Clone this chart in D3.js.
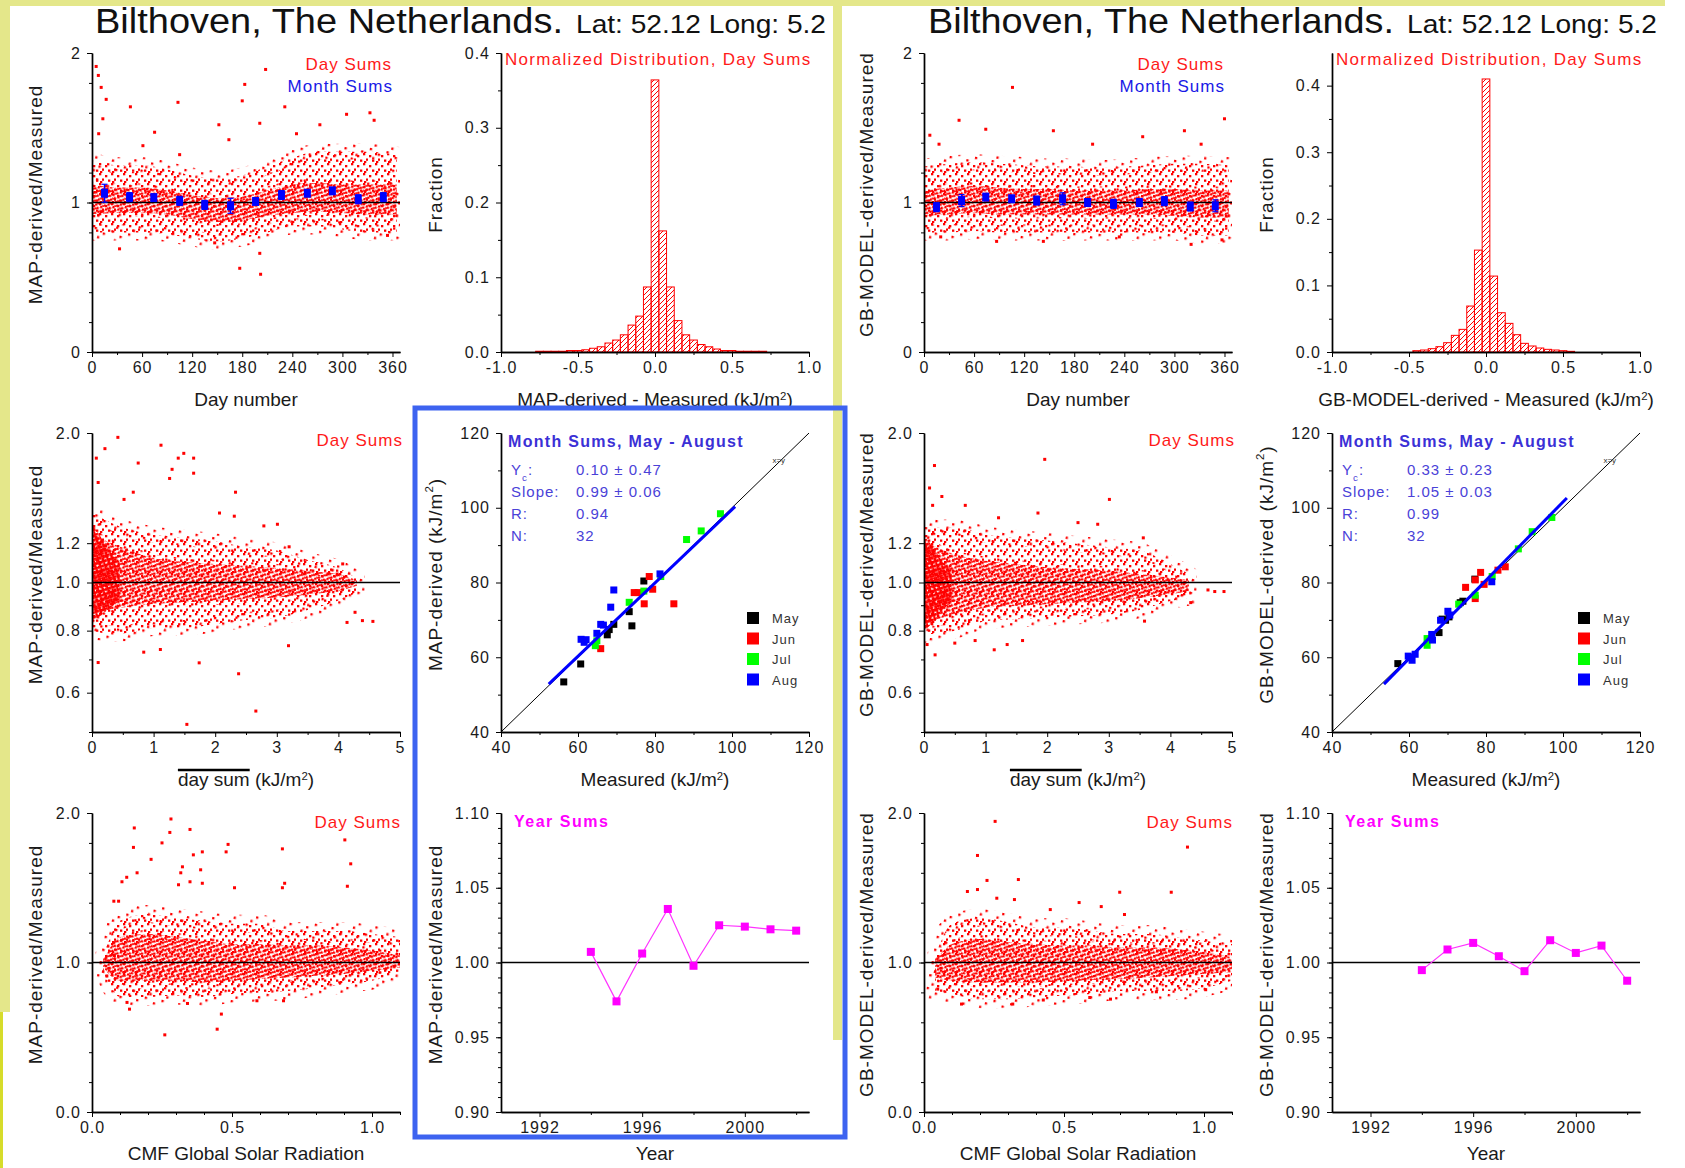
<!DOCTYPE html>
<html>
<head>
<meta charset="utf-8">
<script src="https://cdn.jsdelivr.net/npm/d3@7"></script>
<style>
body { margin: 0; background: #fff; }
svg text { font-family: "Liberation Sans", Arial, sans-serif; }
</style>
</head>
<body>
<svg id="chart" width="1685" height="1168"></svg>
<script>
// ---------- data ----------
// month sums vs day number (top-left panels)
var monthDays   = [15, 45, 74, 105, 135, 166, 196, 227, 258, 288, 319, 349];
var mapMonth    = [1.062, 1.036, 1.033, 1.011, 0.984, 0.978, 1.007, 1.050, 1.062, 1.078, 1.022, 1.036];
var mapMonthErr = [0.06, 0.03, 0.02, 0.03, 0.03, 0.05, 0.015, 0.03, 0.015, 0.02, 0.03, 0.03];
var gbMonth     = [0.969, 1.013, 1.036, 1.025, 1.013, 1.025, 1.000, 0.991, 1.000, 1.009, 0.973, 0.978];
var gbMonthErr  = [0.03, 0.04, 0.02, 0.02, 0.03, 0.04, 0.015, 0.03, 0.02, 0.03, 0.03, 0.04];

// day-sum cloud, day number panels: envelope of the point cloud
var dayKnots      = [0, 30, 60, 90, 120, 150, 180, 210, 240, 270, 300, 330, 365];
var mapDayOuterLo = [0.80, 0.80, 0.80, 0.79, 0.76, 0.74, 0.76, 0.80, 0.84, 0.84, 0.82, 0.80, 0.80];
var mapDayOuterHi = [1.28, 1.25, 1.25, 1.22, 1.18, 1.16, 1.18, 1.24, 1.30, 1.34, 1.34, 1.34, 1.32];
var mapDayInnerLo = [0.92, 0.93, 0.93, 0.92, 0.89, 0.87, 0.88, 0.91, 0.93, 0.94, 0.93, 0.92, 0.92];
var mapDayInnerHi = [1.12, 1.10, 1.10, 1.08, 1.05, 1.03, 1.04, 1.08, 1.12, 1.13, 1.12, 1.12, 1.12];
var gbDayOuterLo  = [0.80, 0.80, 0.81, 0.80, 0.80, 0.80, 0.80, 0.80, 0.80, 0.80, 0.80, 0.78, 0.78];
var gbDayOuterHi  = [1.24, 1.26, 1.27, 1.26, 1.25, 1.24, 1.24, 1.23, 1.24, 1.25, 1.26, 1.26, 1.25];
var gbDayInnerLo  = [0.91, 0.92, 0.93, 0.92, 0.92, 0.92, 0.92, 0.92, 0.92, 0.92, 0.91, 0.90, 0.90];
var gbDayInnerHi  = [1.08, 1.10, 1.11, 1.10, 1.09, 1.09, 1.08, 1.08, 1.08, 1.09, 1.09, 1.08, 1.08];
var mapDayOutliers = [[5,1.91],[7.6,1.85],[11,1.77],[17,1.69],[13,1.56],[8,1.46],[46,1.64],[33,0.69],[61,1.38],
  [103,1.67],[105,1.32],[152,1.52],[164,1.42],[180,1.68],[183,1.79],[208,1.89],[201,1.53],[177,0.56],[201,0.66],
  [202,0.52],[231,1.64],[245,1.46],[305,1.59],[333,1.60],[338,1.55],[273,1.52],[354,0.78],[147,0.73],[172,0.88],[75,1.47]];
var gbDayOutliers = [[106,1.77],[42,1.55],[74,1.49],[155,1.48],[202,1.39],[262,1.44],[312,1.48],[360,1.56],[7,1.45],
  [18,1.39],[332,1.39],[87,0.74],[143,0.74],[320,0.72],[20,0.77],[357,0.75],[234,0.77]];

// normalized distribution of day-sum differences, bins of 0.05
var histCenters = [-0.75,-0.70,-0.65,-0.60,-0.55,-0.50,-0.45,-0.40,-0.35,-0.30,-0.25,-0.20,-0.15,-0.10,-0.05,0,
  0.05,0.10,0.15,0.20,0.25,0.30,0.35,0.40,0.45,0.50,0.55,0.60,0.65,0.70,0.75];
var mapHist = [0.001,0.001,0.001,0.001,0.002,0.002,0.003,0.005,0.007,0.012,0.016,0.023,0.036,0.048,0.087,0.364,
  0.162,0.087,0.042,0.023,0.016,0.010,0.007,0.004,0.002,0.002,0.001,0.001,0.001,0.001,0];
var gbHist = [0,0,0,0,0,0,0.002,0.003,0.005,0.008,0.014,0.025,0.034,0.069,0.153,0.410,
  0.114,0.059,0.043,0.026,0.013,0.009,0.006,0.004,0.003,0.002,0.001,0,0,0,0];

// ratio vs mean day sum (middle-left panels, log y)
var sumKnots      = [0, 0.25, 0.5, 1, 1.5, 2, 2.5, 3, 3.5, 4, 4.3];
var mapSumOuterLo = [0.80, 0.79, 0.79, 0.81, 0.81, 0.825, 0.84, 0.85, 0.88, 0.92, 0.955];
var mapSumOuterHi = [1.39, 1.33, 1.29, 1.25, 1.23, 1.21, 1.18, 1.16, 1.11, 1.07, 1.02];
var mapSumInnerLo = [0.864, 0.88, 0.891, 0.905, 0.912, 0.919, 0.926, 0.933, 0.945, 0.962, 0.985];
var mapSumInnerHi = [1.25, 1.21, 1.175, 1.12, 1.10, 1.09, 1.08, 1.07, 1.055, 1.04, 1.01];
var gbSumOuterLo  = [0.785, 0.79, 0.80, 0.836, 0.843, 0.849, 0.855, 0.862, 0.88, 0.918, 0.932];
var gbSumOuterHi  = [1.29, 1.29, 1.29, 1.25, 1.23, 1.215, 1.195, 1.178, 1.16, 1.09, 1.04];
var gbSumInnerLo  = [0.823, 0.845, 0.862, 0.89, 0.897, 0.904, 0.911, 0.918, 0.93, 0.947, 0.96];
var gbSumInnerHi  = [1.215, 1.17, 1.14, 1.106, 1.09, 1.073, 1.065, 1.056, 1.04, 1.023, 1.01];
var sumCoreKnots  = [0, 0.1, 0.2, 0.3, 0.45];
var mapSumCoreLo  = [0.84, 0.85, 0.87, 0.89, 0.92];
var mapSumCoreHi  = [1.30, 1.26, 1.20, 1.15, 1.10];
var gbSumCoreLo   = [0.80, 0.82, 0.85, 0.88, 0.91];
var gbSumCoreHi   = [1.24, 1.20, 1.15, 1.10, 1.07];
var mapSumOutliers = [[0.42,1.96],[1.12,1.89],[1.49,1.82],[1.65,1.78],[1.40,1.78],[1.30,1.69],[1.65,1.66],[1.26,1.62],
  [0.75,1.74],[0.21,1.86],[0.07,1.78],[0.10,1.59],[2.33,1.52],[0.67,1.52],[0.52,1.47],[2.07,1.38],[2.31,1.36],
  [3.01,1.31],[2.79,1.30],[3.20,1.18],[2.38,0.655],[2.66,0.551],[1.54,0.518],[0.10,0.69],[1.74,0.689],[3.19,0.746],
  [0.84,0.724],[1.11,0.733],[4.14,0.831],[4.39,0.838],[4.56,0.835],[4.27,0.871],[3.98,1.04],[4.07,1.09]];
var gbSumOutliers = [[0.17,1.72],[1.96,1.77],[0.09,1.55],[3.01,1.47],[0.29,1.49],[0.67,1.43],[0.14,1.43],[1.85,1.38],
  [1.21,1.35],[2.50,1.32],[2.82,1.31],[3.56,1.23],[4.72,0.959],[4.87,0.959],[4.61,0.966],[4.33,0.911],[3.58,0.836],
  [0.18,0.715],[0.05,0.75],[1.14,0.732],[1.35,0.75],[1.60,0.764],[0.50,0.755],[0.83,0.764]];

// ratio vs CMF (bottom-left panels)
var cmfKnots      = [0.04, 0.1, 0.2, 0.3, 0.4, 0.5, 0.6, 0.7, 0.8, 0.9, 1.0, 1.1];
var mapCmfOuterLo = [0.945, 0.77, 0.77, 0.78, 0.77, 0.79, 0.80, 0.81, 0.83, 0.856, 0.878, 0.934];
var mapCmfOuterHi = [1.03, 1.28, 1.325, 1.30, 1.28, 1.26, 1.26, 1.21, 1.21, 1.21, 1.19, 1.17];
var mapCmfInnerLo = [0.967, 0.878, 0.878, 0.878, 0.867, 0.878, 0.889, 0.90, 0.912, 0.923, 0.945, 0.967];
var mapCmfInnerHi = [1.01, 1.17, 1.19, 1.17, 1.146, 1.124, 1.124, 1.113, 1.113, 1.10, 1.08, 1.046];
var gbCmfOuterLo  = [0.81, 0.79, 0.755, 0.755, 0.766, 0.78, 0.79, 0.81, 0.81, 0.81, 0.83, 0.878];
var gbCmfOuterHi  = [1.03, 1.26, 1.30, 1.27, 1.236, 1.236, 1.21, 1.19, 1.19, 1.17, 1.146, 1.124];
var gbCmfInnerLo  = [0.90, 0.878, 0.867, 0.867, 0.867, 0.874, 0.883, 0.889, 0.90, 0.912, 0.923, 0.934];
var gbCmfInnerHi  = [1.01, 1.124, 1.157, 1.135, 1.124, 1.113, 1.113, 1.10, 1.10, 1.09, 1.068, 1.035];
var mapCmfOutliers = [[0.151,1.90],[0.282,1.96],[0.278,1.87],[0.350,1.89],[0.250,1.80],[0.148,1.77],[0.486,1.79],
  [0.479,1.74],[0.394,1.74],[0.362,1.72],[0.211,1.69],[0.323,1.64],[0.388,1.62],[0.317,1.60],[0.124,1.57],[0.107,1.54],
  [0.161,1.60],[0.309,1.52],[0.350,1.54],[0.394,1.53],[0.680,1.76],[0.688,1.53],[0.680,1.50],[0.903,1.82],[0.924,1.66],
  [0.912,1.51],[0.509,1.50],[0.260,0.516],[0.447,0.554],[0.462,0.655],[0.134,0.688],[0.125,0.733],[0.341,0.726],
  [0.589,0.744],[0.684,0.744],[0.078,1.41],[0.095,1.41],[0.08,1.046],[0.053,0.91]];
var gbCmfOutliers = [[0.254,1.944],[0.191,1.716],[0.941,1.772],[0.225,1.549],[0.337,1.555],[0.191,1.488],[0.155,1.475],
  [0.699,1.470],[0.883,1.470],[0.323,1.421],[0.260,1.430],[0.554,1.401],[0.633,1.374],[0.451,1.354],[0.716,1.321],
  [0.134,0.722],[0.317,0.722],[0.426,0.749],[0.592,0.766],[0.666,0.755],[0.830,0.804],[1.006,0.818],[0.049,0.822]];

// month sums May-August, [measured, derived]
var monthNames = ["May", "Jun", "Jul", "Aug"];
var monthColors = ["#000000", "#ff0000", "#00ff00", "#0000ff"];
var mapMay = [[56.3,53.4],[60.7,58.2],[67.6,66.0],[68.1,67.4],[69.3,68.8],[73.3,72.2],[74.0,68.4],[77.1,80.4]];
var mapJun = [[65.9,62.3],[74.6,77.3],[75.6,77.3],[77.2,74.3],[78.5,81.6],[79.4,78.2],[84.9,74.3]];
var mapJul = [[64.5,63.1],[64.9,64.4],[73.3,74.7],[77.1,77.7],[81.5,81.6],[88.2,91.5],[92.0,93.8],[97.0,98.4]];
var mapAug = [[60.8,64.8],[61.6,64.0],[62.1,64.7],[64.9,66.4],[65.9,68.8],[66.6,68.6],[68.5,73.4],[69.3,78.0],[81.3,82.3]];
var gbMay = [[57.1,58.3],[67.8,66.6],[68.6,70.2],[70.4,70.8],[73.3,74.6],[74.0,75.0],[77.1,80.9],[69.5,69.9]];
var gbJun = [[74.7,78.7],[77.2,80.7],[77.2,75.7],[78.6,82.7],[79.5,79.5],[85.0,84.2],[83.1,83.3]];
var gbJul = [[64.7,63.2],[64.7,65.0],[72.9,74.2],[77.2,76.6],[81.6,81.6],[88.4,89.0],[92.0,93.6],[97.1,97.4]];
var gbAug = [[59.8,60.3],[60.8,59.2],[61.6,60.8],[65.9,66.1],[66.1,64.6],[68.2,69.9],[70.1,72.3],[81.5,80.2],[70.6,71.3]];
var mapFitLine = [[52.4,52.8],[100.8,100.3]];
var gbFitLine  = [[53.5,52.8],[101.0,102.6]];
var mapStats = [["Y", "0.10 \u00b1 0.47"], ["Slope:", "0.99 \u00b1 0.06"], ["R:", "0.94"], ["N:", "32"]];
var gbStats  = [["Y", "0.33 \u00b1 0.23"], ["Slope:", "1.05 \u00b1 0.03"], ["R:", "0.99"], ["N:", "32"]];

// year sums
var years   = [1994, 1995, 1996, 1997, 1998, 1999, 2000, 2001, 2002];
var mapYear = [1.0071, 0.974, 1.006, 1.0358, 0.9978, 1.0249, 1.024, 1.0222, 1.0213];
var gbYear  = [0.9949, 1.0087, 1.0131, 1.0042, 0.9942, 1.0149, 1.0064, 1.0113, 0.9878];

// tick values
var dayTicks = [0, 60, 120, 180, 240, 300, 360];
var histXTicks = [-1, -0.5, 0, 0.5, 1];
var histYTicks = [0, 0.1, 0.2, 0.3, 0.4];
var logTicks = [0.6, 0.8, 1.0, 1.2, 2.0];
var monthTicks = [40, 60, 80, 100, 120];
var cmfTicks = [0, 0.5, 1.0];
var yearTicks = [1992, 1996, 2000];
var yearYTicks = [0.90, 0.95, 1.00, 1.05, 1.10];

// ---------- layout ----------
var W = 308, H = 299;
var cols = [92, 501, 924, 1332], rows = [53, 433, 813];
var svg = d3.select("#chart");
var defs = svg.append("defs");

// background frame strips
var yel = "#e4e78a";
svg.append("rect").attr("x", 0).attr("y", 0).attr("width", 1665).attr("height", 6).attr("fill", yel);
svg.append("rect").attr("x", 0).attr("y", 0).attr("width", 10).attr("height", 1012).attr("fill", yel);
svg.append("rect").attr("x", 0).attr("y", 1012).attr("width", 3).attr("height", 156).attr("fill", "#d6dc2a");
svg.append("rect").attr("x", 833).attr("y", 0).attr("width", 9).attr("height", 1040).attr("fill", yel);

// patterns
function dotPattern(id, w, h, dots, rot) {
  var p = defs.append("pattern").attr("id", id).attr("patternUnits", "userSpaceOnUse")
    .attr("width", w).attr("height", h);
  if (rot) p.attr("patternTransform", "rotate(" + rot + ")");
  dots.forEach(function(d) {
    p.append("rect").attr("x", d[0]).attr("y", d[1]).attr("width", 2.3).attr("height", 2.3).attr("fill", "#ff0000");
  });
}
dotPattern("fringe", 17, 13, [[2,1],[11,5],[6,9.5]], 11);
dotPattern("sparse", 12, 10, [[1,2],[7,0],[10,5.5],[4,6.5],[8,8]], 0);
dotPattern("dense", 5.5, 5.5, [[0,0],[2.8,2.4],[1.2,3.9]], 27);
dotPattern("core", 4.6, 4.6, [[0,0],[2.3,2.3],[2.3,0]], -18);

var hatch = defs.append("pattern").attr("id", "hatch").attr("patternUnits", "userSpaceOnUse")
  .attr("width", 5).attr("height", 5);
hatch.append("path").attr("d", "M0,5 L5,0 M-1,1 L1,-1 M4,6 L6,4")
  .attr("stroke", "#ff0000").attr("stroke-width", 1);

var f0 = function(d) { return String(d); };
var f1 = function(d) { return d.toFixed(1); };
var f2 = function(d) { return d.toFixed(2); };

function makePanel(col, row, xs, ys, ax) {
  var g = svg.append("g").attr("transform", "translate(" + cols[col] + "," + rows[row] + ")");
  var cid = "clip" + col + "_" + row;
  defs.append("clipPath").attr("id", cid).append("rect").attr("width", W).attr("height", H);
  var body = g.append("g").attr("clip-path", "url(#" + cid + ")");
  var axes = g.append("g");
  axes.append("g").attr("transform", "translate(0," + H + ")")
    .call(d3.axisBottom(xs).tickValues(ax.xMinor).tickFormat("").tickSize(3).tickSizeOuter(0));
  axes.append("g").call(d3.axisLeft(ys).tickValues(ax.yMinor).tickFormat("").tickSize(3).tickSizeOuter(0));
  axes.append("g").attr("transform", "translate(0," + H + ")")
    .call(d3.axisBottom(xs).tickValues(ax.xMajor).tickFormat(ax.xFmt).tickSize(5).tickSizeOuter(0).tickPadding(5));
  axes.append("g")
    .call(d3.axisLeft(ys).tickValues(ax.yMajor).tickFormat(ax.yFmt).tickSize(5).tickSizeOuter(0).tickPadding(6));
  axes.selectAll(".domain").attr("stroke", "#000").attr("stroke-width", 1.4);
  axes.selectAll(".tick line").attr("stroke", "#000");
  axes.selectAll("text").attr("font-size", 16).attr("fill", "#1a1a1a").style("letter-spacing", "1px");
  return { g: g, body: body, axes: axes, row: row };
}

function richText(t, parts) {
  parts.forEach(function(p) {
    var s = t.append("tspan").text(p.t);
    if (p.sup) s.attr("baseline-shift", "super").attr("font-size", "0.6em");
    if (p.sub) s.attr("baseline-shift", "sub").attr("font-size", "0.65em");
  });
  return t;
}

function xTitle(p, parts, overline) {
  var t = p.g.append("text").attr("x", W / 2).attr("y", H + (p.row === 2 ? 48 : 54)).attr("text-anchor", "middle")
    .attr("font-size", 19).attr("fill", "#1a1a1a");
  richText(t, parts);
  if (overline) {
    var n = t.node(), bb = n.getBBox(), w = n.getSubStringLength(0, parts[0].t.length);
    p.g.append("line").attr("x1", bb.x).attr("x2", bb.x + w).attr("y1", bb.y + 1).attr("y2", bb.y + 1)
      .attr("stroke", "#000").attr("stroke-width", 2.5);
  }
}
function yTitle(p, parts, dx) {
  var t = p.g.append("text").attr("transform", "translate(" + dx + "," + (H / 2 - 8) + ") rotate(-90)")
    .attr("text-anchor", "middle").attr("dominant-baseline", "central")
    .attr("font-size", 19).attr("fill", "#1a1a1a").style("letter-spacing", "1px");
  richText(t, parts);
}
function note(p, x, y, txt, color, anchor, size, bold, spacing) {
  return p.g.append("text").attr("x", x).attr("y", y).attr("text-anchor", anchor || "start")
    .attr("font-size", size || 17).attr("fill", color).attr("font-weight", bold ? "bold" : "normal")
    .style("letter-spacing", (spacing === undefined ? 1 : spacing) + "px").text(txt);
}

// cloud of day sums: pattern-filled envelope, with a pattern stroke to soften its edge
function band(p, xs, ys, knots, lo, hi, pat, edge) {
  var area = d3.area()
    .x(function(d, i) { return xs(knots[i]); })
    .y0(function(d, i) { return ys(lo[i]); })
    .y1(function(d, i) { return ys(hi[i]); })
    .curve(d3.curveMonotoneX);
  var path = p.body.append("path").datum(knots).attr("d", area).attr("fill", "url(#" + pat + ")");
  if (edge) path.attr("stroke", "url(#fringe)").attr("stroke-width", edge);
}
function dots(p, xs, ys, pts) {
  p.body.selectAll(null).data(pts).enter().append("rect")
    .attr("x", function(d) { return xs(d[0]) - 1.5; }).attr("y", function(d) { return ys(d[1]) - 1.5; })
    .attr("width", 3).attr("height", 3).attr("fill", "#ff0000");
}
function refLine(p, ys, v) {
  p.body.append("line").attr("x1", 0).attr("x2", W).attr("y1", ys(v)).attr("y2", ys(v))
    .attr("stroke", "#000").attr("stroke-width", 1.5);
}

// ---------- panel builders ----------
function dayPanel(col, label, lo1, hi1, lo2, hi2, outl, mvals, merr) {
  var xs = d3.scaleLinear().domain([0, 369]).range([0, W]);
  var ys = d3.scaleLinear().domain([0, 2]).range([H, 0]);
  var p = makePanel(col, 0, xs, ys, { xMajor: dayTicks, xMinor: d3.range(30, 361, 60), xFmt: f0,
    yMajor: [0, 1, 2], yMinor: d3.range(0.2, 2, 0.2), yFmt: f0 });
  band(p, xs, ys, dayKnots, lo1, hi1, "sparse", 16);
  band(p, xs, ys, dayKnots, lo2, hi2, "dense", 8);
  dots(p, xs, ys, outl);
  refLine(p, ys, 1);
  var mg = p.body.append("g");
  monthDays.forEach(function(d, i) {
    var x = xs(d);
    mg.append("line").attr("x1", x).attr("x2", x).attr("y1", ys(mvals[i] - merr[i])).attr("y2", ys(mvals[i] + merr[i]))
      .attr("stroke", "#0000ff").attr("stroke-width", 1.5);
    [mvals[i] - merr[i], mvals[i] + merr[i]].forEach(function(v) {
      mg.append("line").attr("x1", x - 3).attr("x2", x + 3).attr("y1", ys(v)).attr("y2", ys(v))
        .attr("stroke", "#0000ff").attr("stroke-width", 1.2);
    });
    mg.append("rect").attr("x", x - 3.5).attr("y", ys(mvals[i]) - 4.5).attr("width", 7).attr("height", 9)
      .attr("fill", "#0000ff");
  });
  note(p, W - 8, 17, "Day Sums", "#ff1a1a", "end");
  note(p, W - 7, 39, "Month Sums", "#1a1ae6", "end");
  xTitle(p, [{ t: "Day number" }]);
  yTitle(p, [{ t: label + "/Measured" }], col === 0 ? -57 : -58);
}

function histPanel(col, label, vals, ymax) {
  var xs = d3.scaleLinear().domain([-1, 1]).range([0, W]);
  var ys = d3.scaleLinear().domain([0, ymax]).range([H, 0]);
  var p = makePanel(col, 0, xs, ys, { xMajor: histXTicks, xMinor: [-0.75, -0.25, 0.25, 0.75], xFmt: f1,
    yMajor: histYTicks, yMinor: d3.range(0.05, ymax, 0.1), yFmt: f1 });
  p.body.selectAll(null).data(histCenters).enter().append("rect")
    .filter(function(d, i) { return vals[i] > 0; })
    .attr("x", function(d) { return xs(d - 0.025); })
    .attr("width", function(d) { return xs(d + 0.025) - xs(d - 0.025); })
    .attr("y", function(d) { return ys(vals[histCenters.indexOf(d)]); })
    .attr("height", function(d) { return H - ys(vals[histCenters.indexOf(d)]); })
    .attr("fill", "url(#hatch)").attr("stroke", "#ff0000").attr("stroke-width", 1);
  note(p, 4, 12, "Normalized Distribution, Day Sums", "#ff1a1a", "start", 17, false, 1.3);
  xTitle(p, [{ t: label + " - Measured (kJ/m" }, { t: "2", sup: true }, { t: ")" }]);
  yTitle(p, [{ t: "Fraction" }], -66);
}

function sumPanel(col, label, lo1, hi1, lo2, hi2, clo, chi, outl) {
  var xs = d3.scaleLinear().domain([0, 5]).range([0, W]);
  var ys = d3.scaleLog().domain([0.5, 2]).range([H, 0]);
  var p = makePanel(col, 1, xs, ys, { xMajor: [0, 1, 2, 3, 4, 5], xMinor: [0.5, 1.5, 2.5, 3.5, 4.5], xFmt: f0,
    yMajor: logTicks, yMinor: [0.5, 0.7, 0.9], yFmt: f1 });
  band(p, xs, ys, sumKnots, lo1, hi1, "sparse", 16);
  band(p, xs, ys, sumKnots, lo2, hi2, "dense", 8);
  band(p, xs, ys, sumCoreKnots, clo, chi, "core", 0);
  dots(p, xs, ys, outl);
  refLine(p, ys, 1);
  note(p, W + 3, 13, "Day Sums", "#ff1a1a", "end");
  xTitle(p, [{ t: "day sum" }, { t: " (kJ/m" }, { t: "2", sup: true }, { t: ")" }], true);
  yTitle(p, [{ t: label + "/Measured" }], col === 0 ? -57 : -58);
}

function monthPanel(col, label, sets, fit, stats) {
  var xs = d3.scaleLinear().domain([40, 120]).range([0, W]);
  var ys = d3.scaleLinear().domain([40, 120]).range([H, 0]);
  var p = makePanel(col, 1, xs, ys, { xMajor: monthTicks, xMinor: [50, 70, 90, 110], xFmt: f0,
    yMajor: monthTicks, yMinor: [50, 70, 90, 110], yFmt: f0 });
  p.body.append("line").attr("x1", xs(40)).attr("y1", ys(40)).attr("x2", xs(120)).attr("y2", ys(120))
    .attr("stroke", "#000").attr("stroke-width", 1);
  p.g.append("text").attr("x", xs(110.5)).attr("y", ys(112)).attr("font-size", 8).attr("fill", "#333").text("x=y");
  sets.forEach(function(s, k) {
    p.body.selectAll(null).data(s).enter().append("rect")
      .attr("x", function(d) { return xs(d[0]) - 3.5; }).attr("y", function(d) { return ys(d[1]) - 3.5; })
      .attr("width", 7).attr("height", 7).attr("fill", monthColors[k]);
  });
  p.body.append("line").attr("x1", xs(fit[0][0])).attr("y1", ys(fit[0][1]))
    .attr("x2", xs(fit[1][0])).attr("y2", ys(fit[1][1])).attr("stroke", "#0000ff").attr("stroke-width", 3);
  note(p, 7, 14, "Month  Sums, May - August", "#3b30d6", "start", 16, true, 1.3);
  stats.forEach(function(s, i) {
    var y = 42 + i * 22;
    var t = note(p, 10, y, "", "#4a42d8", "start", 15, false, 1);
    if (i === 0) richText(t, [{ t: "Y" }, { t: "c", sub: true }, { t: ":" }]); else t.text(s[0]);
    note(p, 75, y, s[1], "#4a42d8", "start", 15, false, 1);
  });
  monthNames.forEach(function(m, k) {
    var y = 185 + k * 20.5;
    p.g.append("rect").attr("x", 246).attr("y", y - 6).attr("width", 12).attr("height", 12).attr("fill", monthColors[k]);
    note(p, 271, y + 5, m, "#333", "start", 13, false, 1);
  });
  xTitle(p, [{ t: "Measured (kJ/m" }, { t: "2", sup: true }, { t: ")" }]);
  yTitle(p, [{ t: label + " (kJ/m" }, { t: "2", sup: true }, { t: ")" }], -66);
}

function cmfPanel(col, label, lo1, hi1, lo2, hi2, outl) {
  var xs = d3.scaleLinear().domain([0, 1.1]).range([0, W]);
  var ys = d3.scaleLinear().domain([0, 2]).range([H, 0]);
  var p = makePanel(col, 2, xs, ys, { xMajor: cmfTicks, xMinor: d3.range(0.1, 1.1001, 0.1), xFmt: f1,
    yMajor: [0, 1, 2], yMinor: d3.range(0.2, 2, 0.2), yFmt: f1 });
  band(p, xs, ys, cmfKnots, lo1, hi1, "sparse", 18);
  band(p, xs, ys, cmfKnots, lo2, hi2, "dense", 8);
  dots(p, xs, ys, outl);
  refLine(p, ys, 1);
  note(p, W + 1, 15, "Day Sums", "#ff1a1a", "end");
  xTitle(p, [{ t: "CMF Global Solar Radiation" }]);
  yTitle(p, [{ t: label + "/Measured" }], col === 0 ? -57 : -58);
}

function yearPanel(col, label, vals) {
  var xs = d3.scaleLinear().domain([1990.5, 2002.5]).range([0, W]);
  var ys = d3.scaleLinear().domain([0.9, 1.1]).range([H, 0]);
  var p = makePanel(col, 2, xs, ys, { xMajor: yearTicks, xMinor: [1994, 1998, 2002], xFmt: f0,
    yMajor: yearYTicks, yMinor: d3.range(0.91, 1.1, 0.01), yFmt: f2 });
  refLine(p, ys, 1);
  var line = d3.line().x(function(d, i) { return xs(years[i]); }).y(function(d) { return ys(d); });
  p.body.append("path").datum(vals).attr("d", line).attr("fill", "none").attr("stroke", "#ff33ff").attr("stroke-width", 1.2);
  p.body.selectAll(null).data(vals).enter().append("rect")
    .attr("x", function(d, i) { return xs(years[i]) - 4; }).attr("y", function(d) { return ys(d) - 4; })
    .attr("width", 8).attr("height", 8).attr("fill", "#ff00ff");
  note(p, 13, 14, "Year Sums", "#ff00ff", "start", 16, true, 1.5);
  xTitle(p, [{ t: "Year" }]);
  yTitle(p, [{ t: label + "/Measured" }], -66);
}

// ---------- titles ----------
function header(x1, x2, x3, x4) {
  svg.append("text").attr("x", x1).attr("y", 33).attr("font-size", 35).attr("fill", "#111")
    .attr("textLength", x2 - x1).attr("lengthAdjust", "spacingAndGlyphs").text("Bilthoven, The Netherlands.");
  svg.append("text").attr("x", x3).attr("y", 33).attr("font-size", 25).attr("fill", "#111")
    .attr("textLength", x4 - x3).attr("lengthAdjust", "spacingAndGlyphs").text("Lat: 52.12 Long: 5.2");
}
header(95, 563, 576, 826);
header(928, 1394, 1407, 1657);

// ---------- panels ----------
dayPanel(0, "MAP-derived", mapDayOuterLo, mapDayOuterHi, mapDayInnerLo, mapDayInnerHi, mapDayOutliers, mapMonth, mapMonthErr);
histPanel(1, "MAP-derived", mapHist, 0.4);
dayPanel(2, "GB-MODEL-derived", gbDayOuterLo, gbDayOuterHi, gbDayInnerLo, gbDayInnerHi, gbDayOutliers, gbMonth, gbMonthErr);
histPanel(3, "GB-MODEL-derived", gbHist, 0.449);

sumPanel(0, "MAP-derived", mapSumOuterLo, mapSumOuterHi, mapSumInnerLo, mapSumInnerHi, mapSumCoreLo, mapSumCoreHi, mapSumOutliers);
monthPanel(1, "MAP-derived", [mapMay, mapJun, mapJul, mapAug], mapFitLine, mapStats);
sumPanel(2, "GB-MODEL-derived", gbSumOuterLo, gbSumOuterHi, gbSumInnerLo, gbSumInnerHi, gbSumCoreLo, gbSumCoreHi, gbSumOutliers);
monthPanel(3, "GB-MODEL-derived", [gbMay, gbJun, gbJul, gbAug], gbFitLine, gbStats);

cmfPanel(0, "MAP-derived", mapCmfOuterLo, mapCmfOuterHi, mapCmfInnerLo, mapCmfInnerHi, mapCmfOutliers);
yearPanel(1, "MAP-derived", mapYear);
cmfPanel(2, "GB-MODEL-derived", gbCmfOuterLo, gbCmfOuterHi, gbCmfInnerLo, gbCmfInnerHi, gbCmfOutliers);
yearPanel(3, "GB-MODEL-derived", gbYear);

// blue frame around the MAP month/year panels
svg.append("rect").attr("x", 415).attr("y", 408).attr("width", 430).attr("height", 729)
  .attr("fill", "none").attr("stroke", "#3d63f0").attr("stroke-width", 5);
</script>
</body>
</html>
